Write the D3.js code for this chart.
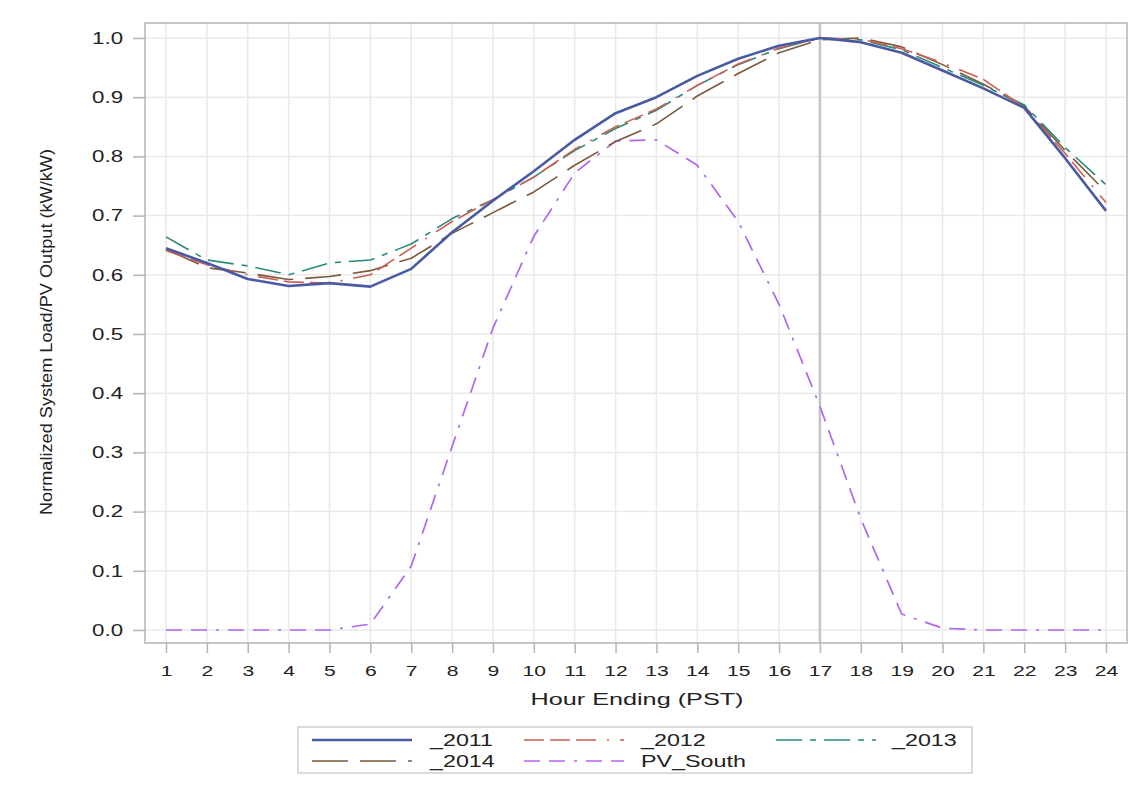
<!DOCTYPE html>
<html>
<head>
<meta charset="utf-8">
<script src="https://cdn.jsdelivr.net/npm/d3@7"></script>
<style>
  html, body { margin: 0; padding: 0; background: #fff; }
  svg { display: block; }
  text { font-family: "Liberation Sans", Arial, sans-serif; fill: #222; }
</style>
</head>
<body>
<svg id="chart" width="1140" height="787"></svg>
<script>
const hours = [1,2,3,4,5,6,7,8,9,10,11,12,13,14,15,16,17,18,19,20,21,22,23,24];
const load2011 = [0.645,0.620,0.593,0.581,0.586,0.580,0.610,0.672,0.725,0.775,0.828,0.873,0.900,0.936,0.965,0.987,1.000,0.993,0.975,0.945,0.915,0.882,0.797,0.708];
const load2012 = [0.641,0.617,0.600,0.588,0.586,0.600,0.645,0.690,0.727,0.765,0.812,0.850,0.880,0.920,0.956,0.983,1.000,0.998,0.982,0.958,0.930,0.883,0.805,0.722];
const load2013 = [0.664,0.625,0.615,0.600,0.620,0.625,0.652,0.695,0.727,0.765,0.810,0.847,0.878,0.920,0.955,0.982,1.000,0.997,0.980,0.950,0.920,0.887,0.815,0.752];
const load2014 = [0.643,0.612,0.603,0.592,0.597,0.607,0.628,0.670,0.705,0.740,0.785,0.825,0.855,0.902,0.940,0.975,0.997,1.000,0.985,0.955,0.922,0.885,0.810,0.740];
const pvSouth  = [0,0,0,0,0,0.010,0.108,0.310,0.510,0.665,0.772,0.826,0.828,0.785,0.690,0.550,0.378,0.188,0.027,0.003,0,0,0,0];
const seriesNames = ["_2011","_2012","_2013","_2014","PV_South"];
const yTicks = [0,0.1,0.2,0.3,0.4,0.5,0.6,0.7,0.8,0.9,1.0];
const refHour = 17;

const seriesData = [load2011, load2012, load2013, load2014, pvSouth];
const colors = ["#4a5aa2","#cc5e52","#2a8a7a","#7a5a3c","#b066f0"];
const widths = [2.6, 1.6, 1.6, 1.6, 1.7];
const dashes = [null, "20,6,20,6,20,11,2,11", "26,8,6,8", "36,12", "16,9,16,9,3,9"];

const svg = d3.select("#chart");
const frame = {left: 145, right: 1127, top: 23, bottom: 643};
const x = d3.scaleLinear().domain([1, 24]).range([166, 1106]);
const y = d3.scaleLinear().domain([0, 1]).range([630, 38]);

function widen(sel, factor) {
  sel.each(function() {
    const w = this.getComputedTextLength();
    d3.select(this).attr("textLength", w * factor).attr("lengthAdjust", "spacingAndGlyphs");
  });
}

// gridlines
const grid = svg.append("g");
grid.selectAll("line.v").data(hours).join("line")
  .attr("x1", d => x(d)).attr("x2", d => x(d))
  .attr("y1", frame.top).attr("y2", frame.bottom)
  .attr("stroke", "#e9e9e9").attr("stroke-width", 1.5);
grid.selectAll("line.h").data(yTicks).join("line")
  .attr("x1", frame.left).attr("x2", frame.right)
  .attr("y1", d => y(d)).attr("y2", d => y(d))
  .attr("stroke", "#e9e9e9").attr("stroke-width", 1.5);

// reference line
svg.append("line")
  .attr("x1", x(refHour)).attr("x2", x(refHour))
  .attr("y1", frame.top).attr("y2", frame.bottom)
  .attr("stroke", "#c4c4c4").attr("stroke-width", 2.5);

// frame
svg.append("rect")
  .attr("x", frame.left).attr("y", frame.top)
  .attr("width", frame.right - frame.left).attr("height", frame.bottom - frame.top)
  .attr("fill", "none").attr("stroke", "#b4b4b4").attr("stroke-width", 1.5);

// axes
const xAxis = d3.axisBottom(x).tickValues(hours).tickFormat(d3.format("d")).tickSize(10).tickPadding(6);
const gx = svg.append("g").attr("transform", `translate(0,${frame.bottom})`).call(xAxis);
gx.select(".domain").remove();
gx.selectAll(".tick line").attr("stroke", "#b4b4b4").attr("stroke-width", 1.5);
gx.selectAll(".tick text").attr("font-size", 15.5).attr("font-family", "Liberation Sans, Arial, sans-serif")
  .attr("fill", "#222").attr("y", 33).attr("dy", null);
widen(gx.selectAll(".tick text"), 1.36);

const yAxis = d3.axisLeft(y).tickValues(yTicks).tickFormat(d3.format(".1f")).tickSize(12).tickPadding(10);
const gy = svg.append("g").attr("transform", `translate(${frame.left},0)`).call(yAxis);
gy.select(".domain").remove();
gy.selectAll(".tick line").attr("stroke", "#b4b4b4").attr("stroke-width", 1.5);
gy.selectAll(".tick text").attr("font-size", 16.5).attr("font-family", "Liberation Sans, Arial, sans-serif").attr("fill", "#222");
widen(gy.selectAll(".tick text"), 1.35);

// axis titles
svg.append("text")
  .attr("x", 637).attr("y", 705)
  .attr("text-anchor", "middle")
  .attr("font-size", 16.5)
  .attr("textLength", 213).attr("lengthAdjust", "spacingAndGlyphs")
  .text("Hour Ending (PST)");

svg.append("text")
  .attr("transform", "translate(52,332) rotate(-90)")
  .attr("text-anchor", "middle")
  .attr("font-size", 17)
  .style("font-family", "'Liberation Sans Narrow', 'Liberation Sans', Arial, sans-serif")
  .attr("textLength", 366).attr("lengthAdjust", "spacingAndGlyphs")
  .text("Normalized System Load/PV Output (kW/kW)");

// lines
const lineGen = d3.line().x((d, i) => x(hours[i])).y(d => y(d));
const order = [4, 3, 2, 1, 0];
order.forEach(k => {
  svg.append("path")
    .datum(seriesData[k])
    .attr("d", lineGen)
    .attr("fill", "none")
    .attr("stroke", colors[k])
    .attr("stroke-width", widths[k])
    .attr("stroke-dasharray", dashes[k])
    .attr("stroke-linejoin", "round");
});

// legend
const lg = svg.append("g");
lg.append("rect").attr("x", 298).attr("y", 727).attr("width", 674).attr("height", 46)
  .attr("fill", "#fff").attr("stroke", "#c4c4c4").attr("stroke-width", 1.2);
const legendPos = [
  {sx: 312, lx: 430, y: 740},
  {sx: 524, lx: 641, y: 740},
  {sx: 776, lx: 892, y: 740},
  {sx: 312, lx: 430, y: 761},
  {sx: 524, lx: 641, y: 761}
];
seriesNames.forEach((name, k) => {
  const p = legendPos[k];
  lg.append("line")
    .attr("x1", p.sx).attr("x2", p.sx + 100)
    .attr("y1", p.y).attr("y2", p.y)
    .attr("stroke", colors[k]).attr("stroke-width", widths[k])
    .attr("stroke-dasharray", dashes[k]);
  const t = lg.append("text").attr("x", p.lx).attr("y", p.y + 6)
    .attr("font-size", 17).text(name);
  widen(t, 1.37);
});
</script>
</body>
</html>
